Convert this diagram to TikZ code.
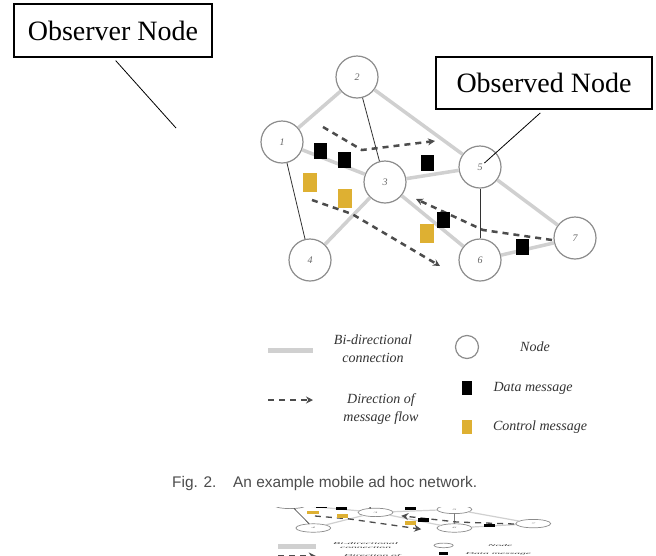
\documentclass[tikz,border=0pt]{standalone}
\usepackage{fontspec}
\newfontfamily\legfont{Liberation Serif}
\newfontfamily\capfont{Liberation Sans}
\usetikzlibrary{arrows.meta}
\definecolor{ctrlgold}{RGB}{222,176,50}
\definecolor{linkgray}{RGB}{208,208,208}
\tikzset{
  netnode/.style={circle,draw=black!45,line width=1.2pt,minimum size=42pt,inner sep=0pt,
    font=\legfont\itshape\fontsize{10}{12}\selectfont,text=black!60},
  legnode/.style={circle,draw=black!45,line width=1.2pt,minimum size=23pt,inner sep=0pt},
  biconn/.style={draw=linkgray,line width=3.5pt},
  thinlink/.style={draw=black!80,line width=0.8pt},
  flow/.style={draw=black!70,line width=2.5pt,dash pattern=on 6pt off 5pt,
    -{Stealth[length=7pt,width=7pt]}},
  datamsg/.style={rectangle,fill=black,minimum width=13pt,minimum height=16pt,inner sep=0pt},
  ctrlmsg/.style={rectangle,fill=ctrlgold,minimum width=14pt,minimum height=19pt,inner sep=0pt},
  legdata/.style={rectangle,fill=black,minimum width=10pt,minimum height=14pt,inner sep=0pt},
  legctrl/.style={rectangle,fill=ctrlgold,minimum width=10pt,minimum height=14pt,inner sep=0pt},
  legtext/.style={font=\legfont\itshape\fontsize{14}{18}\selectfont,align=center,text=black!80},
  callout/.style={draw=black,line width=1.2pt,font=\legfont\fontsize{28}{32}\selectfont,inner sep=0pt},
  captext/.style={font=\capfont\fontsize{15.4}{18}\selectfont,text=black!70,anchor=west,inner sep=0pt},
  pointer/.style={draw=black,line width=0.8pt},
}
\newcommand\netdraw{%
  % nodes
  \node[netnode] (n2) at (357,77) {2};
  \node[netnode] (n1) at (282,142) {1};
  \node[netnode] (n3) at (385,182) {3};
  \node[netnode] (n5) at (480,167) {5};
  \node[netnode] (n4) at (310,260) {4};
  \node[netnode] (n6) at (480,260) {6};
  \node[netnode] (n7) at (575,238) {7};
  % bi-directional links
  \draw[biconn] (n2) -- (n1);
  \draw[biconn] (n2) -- (n5);
  \draw[biconn] (n1) -- (n3);
  \draw[biconn] (n3) -- (n5);
  \draw[biconn] (n3) -- (n4);
  \draw[biconn] (n3) -- (n6);
  \draw[biconn] (n5) -- (n7);
  \draw[biconn] (n6) -- (n7);
  % thin links
  \draw[thinlink] (n2) -- (n3);
  \draw[thinlink] (n1) -- (n4);
  \draw[thinlink] (n5) -- (n6);
  % message flows
  \coordinate (fa1) at (323,127); \coordinate (fa2) at (362,150); \coordinate (fa3) at (435,141);
  \coordinate (fb1) at (312,200); \coordinate (fb2) at (352,214); \coordinate (fb3) at (440,266);
  \coordinate (fc1) at (552,240); \coordinate (fc2) at (483,230); \coordinate (fc3) at (416,199);
  \draw[flow] (fa1) -- (fa2) -- (fa3);
  \draw[flow] (fb1) -- (fb2) -- (fb3);
  \draw[flow] (fc1) -- (fc2) -- (fc3);
  % messages
  \node[datamsg] (d1) at (320,151) {};
  \node[datamsg] (d2) at (344,160) {};
  \node[datamsg] (d3) at (427,163) {};
  \node[datamsg] (d4) at (443,220) {};
  \node[datamsg] (d5) at (522,247) {};
  \node[ctrlmsg] (c1) at (310,182) {};
  \node[ctrlmsg] (c2) at (345,198) {};
  \node[ctrlmsg] (c3) at (427,233) {};
  % legend
  \coordinate (lg1a) at (268,350); \coordinate (lg1b) at (313,350);
  \coordinate (lg2a) at (268,400); \coordinate (lg2b) at (313,400);
  \draw[biconn,line width=5pt] (lg1a) -- (lg1b);
  \draw[flow] (lg2a) -- (lg2b);
  \node[legtext] (t1) at (373,349) {Bi-directional\\connection};
  \node[legtext] (t2) at (381,409) {Direction of\\message flow};
  \node[legnode] (ln) at (467,347) {};
  \node[legdata] (ld) at (467,388) {};
  \node[legctrl] (lc) at (467,427) {};
  \node[legtext] (t3) at (535,347) {Node};
  \node[legtext] (t4) at (533,388) {Data message};
  \node[legtext] (t5) at (540,427) {Control message};
}
\begin{document}
\begin{tikzpicture}[x=1pt,y=-1pt]
  \useasboundingbox[fill=white] (0,0) rectangle (656,555);
  \netdraw
  % caption
  \node[captext] (fig) at (172,484) {Fig. 2.};
  \node[captext] (cap) at (233,484) {An example mobile ad hoc network.};
  % squeezed copy at the bottom
  \begin{scope}
    \clip (0,507) rectangle (656,555);
    \begin{scope}[name prefix=c-, shift={(56,476)}, xscale=0.83, yscale=0.2, transform shape,
        biconn/.append style={line width=1.2pt},
        thinlink/.append style={line width=0.6pt},
        flow/.append style={line width=1.3pt},
        netnode/.append style={line width=0.7pt},
        legnode/.append style={line width=0.7pt}]
      \netdraw
    \end{scope}
  \end{scope}
  % callouts
  \node[callout,minimum width=198pt,minimum height=53pt] (obsvr) at (113,30.5) {Observer Node};
  \coordinate (obsvrtip) at (176,128);
  \draw[pointer,shorten <=4pt] (obsvr.south) -- (obsvrtip);
  \node[callout,minimum width=216pt,minimum height=52pt] (obsd) at (544,83) {Observed Node};
  \draw[pointer,shorten <=5pt,shorten >=6pt] (obsd.south) -- (n5.center);
\end{tikzpicture}
\end{document}
